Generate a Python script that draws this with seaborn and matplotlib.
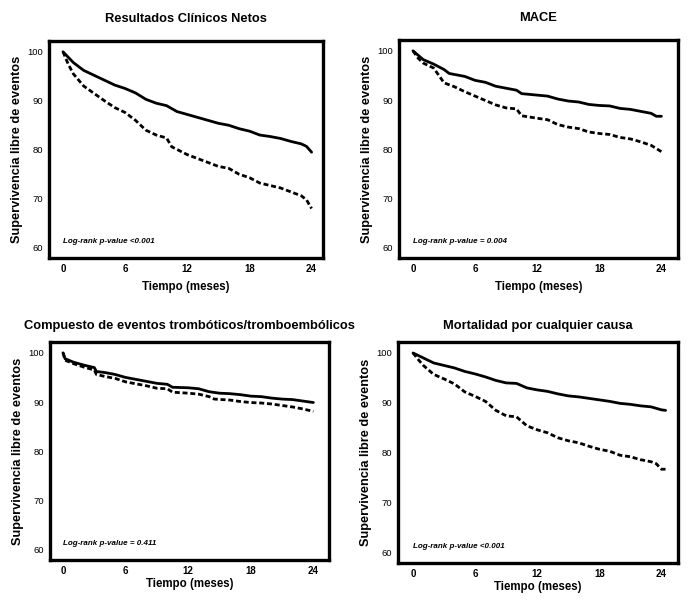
import numpy as np
import pandas as pd
import matplotlib.pyplot as plt
import seaborn as sns

# --- data (months, % event-free survival) ---
titles = [
    "Resultados Clínicos Netos",
    "MACE",
    "Compuesto de eventos trombóticos/tromboembólicos",
    "Mortalidad por cualquier causa",
]
pvalues = [
    "Log-rank p-value <0.001",
    "Log-rank p-value = 0.004",
    "Log-rank p-value = 0.411",
    "Log-rank p-value <0.001",
]

net_t_solid = [0, 1, 2, 3, 4, 5, 6, 7, 8, 9, 10, 11, 12, 13, 14, 15, 16, 17, 18, 19, 20, 21, 22, 23, 23.5, 24]
net_s_solid = [100, 97.8, 96.2, 95.2, 94.2, 93.2, 92.5, 91.6, 90.3, 89.5, 89.0, 87.8, 87.2, 86.6, 86.0, 85.4,
               85.0, 84.3, 83.8, 83.0, 82.7, 82.3, 81.7, 81.2, 80.7, 79.5]
net_t_dash = [0, 0.5, 1, 2, 3, 4, 5, 6, 7, 8, 9, 10, 10.5, 12, 13, 14, 15, 16, 17, 18, 19, 20, 21, 22, 23, 23.5, 24]
net_s_dash = [100, 97.5, 95.5, 93.0, 91.5, 90.0, 88.6, 87.6, 86.0, 84.0, 83.0, 82.4, 80.6, 79.0, 78.2, 77.4,
              76.6, 76.2, 75.0, 74.3, 73.2, 72.7, 72.2, 71.4, 70.6, 69.8, 68.0]

mace_t_solid = [0, 1, 2, 3, 3.5, 5, 6, 7, 8, 9, 10, 10.5, 12, 13, 14, 15, 16, 17, 18, 19, 20, 21, 22, 23, 23.5, 24]
mace_s_solid = [100, 98.2, 97.3, 96.2, 95.4, 94.8, 94.0, 93.6, 92.8, 92.4, 92.0, 91.3, 91.0, 90.8, 90.2, 89.8,
                89.6, 89.1, 88.9, 88.8, 88.3, 88.1, 87.7, 87.3, 86.7, 86.7]
mace_t_dash = [0, 0.5, 1, 2, 3, 4, 5, 6, 7, 8, 9, 10, 10.5, 12, 13, 14, 15, 16, 17, 18, 19, 20, 21, 22, 23, 24]
mace_s_dash = [100, 98.5, 97.5, 96.5, 93.5, 92.7, 91.7, 90.8, 89.9, 89.0, 88.4, 88.2, 86.8, 86.3, 86.0, 85.0,
               84.5, 84.2, 83.5, 83.2, 83.0, 82.4, 82.1, 81.5, 80.8, 79.5]

thr_t_solid = [0, 0.2, 1, 2, 3, 3.2, 4, 5, 6, 7, 8, 9, 10, 10.5, 12, 13, 14, 15, 16, 17, 18, 19, 20, 21, 22, 23, 24]
thr_s_solid = [100, 98.8, 98.1, 97.5, 97.0, 96.2, 96.0, 95.6, 95.0, 94.6, 94.2, 93.8, 93.6, 93.0, 92.9, 92.7,
               92.1, 91.8, 91.7, 91.5, 91.2, 91.1, 90.8, 90.6, 90.5, 90.2, 89.9]
thr_t_dash = [0, 0.2, 1, 2, 3, 3.2, 4, 5, 6, 7, 8, 9, 10, 10.5, 12, 13, 14, 14.5, 16, 17, 18, 19, 20, 21, 22, 23, 24]
thr_s_dash = [100, 98.5, 97.8, 97.1, 96.5, 95.6, 95.2, 94.8, 94.1, 93.7, 93.3, 92.8, 92.7, 92.0, 91.8, 91.6,
              91.1, 90.6, 90.4, 90.1, 89.9, 89.8, 89.6, 89.3, 89.0, 88.6, 88.1]

mort_t_solid = [0, 1, 2, 3, 4, 5, 6, 7, 8, 9, 10, 11, 12, 13, 14, 15, 16, 17, 18, 19, 20, 21, 22, 23, 24, 24.4]
mort_s_solid = [100, 99.0, 98.0, 97.5, 97.0, 96.3, 95.8, 95.2, 94.5, 94.0, 93.9, 93.0, 92.6, 92.3, 91.8, 91.4,
                91.2, 90.9, 90.6, 90.3, 89.9, 89.7, 89.4, 89.2, 88.6, 88.5]
mort_t_dash = [0, 0.5, 1, 2, 3, 4, 5, 6, 7, 8, 9, 10, 11, 12, 13, 14, 15, 16, 17, 18, 19, 20, 21, 22, 23, 23.5, 24, 24.4]
mort_s_dash = [100, 98.7, 97.5, 95.7, 94.8, 93.8, 92.2, 91.3, 90.3, 88.5, 87.4, 87.2, 85.4, 84.6, 84.0, 83.0,
               82.4, 82.0, 81.3, 80.7, 80.3, 79.5, 79.2, 78.6, 78.2, 77.8, 76.7, 76.7]

x_ticks = [0, 6, 12, 18, 24]
y_ticks = [60, 70, 80, 90, 100]

curves = [
    (net_t_solid, net_s_solid, net_t_dash, net_s_dash),
    (mace_t_solid, mace_s_solid, mace_t_dash, mace_s_dash),
    (thr_t_solid, thr_s_solid, thr_t_dash, thr_s_dash),
    (mort_t_solid, mort_s_solid, mort_t_dash, mort_s_dash),
]


def to_frame(t1, s1, t2, s2):
    a = pd.DataFrame({"t": t1, "s": s1, "grupo": "A"})
    b = pd.DataFrame({"t": t2, "s": s2, "grupo": "B"})
    return pd.concat([a, b], ignore_index=True)


sns.set_style("white")
plt.rcParams["font.family"] = ["Liberation Sans", "DejaVu Sans"]
for key in ["text.color", "axes.labelcolor", "xtick.color", "ytick.color"]:
    plt.rcParams[key] = "black"

fig = plt.figure(figsize=(6.98, 6.0), dpi=100)
W, H = 698, 600
# panel boxes in pixels: left, top, right, bottom
boxes = [(49, 41, 323, 258), (399, 40, 678, 258), (50, 342, 329, 560), (398, 342, 678, 563)]
xlims = [(-1.35, 25.1), (-1.35, 25.6), (-1.25, 25.5), (-1.45, 25.6)]

for i, (l, t, r, b) in enumerate(boxes):
    ax = fig.add_axes([l / W, 1 - b / H, (r - l) / W, (b - t) / H])
    df = to_frame(*curves[i])
    sns.lineplot(data=df, x="t", y="s", style="grupo", dashes={"A": "", "B": (1.8, 1.0)},
                 color="black", linewidth=2.0, estimator=None, legend=False, ax=ax)
    ax.set_xlim(*xlims[i])
    ax.set_ylim(57.9, 102.2)
    ax.set_xticks(x_ticks)
    ax.set_yticks(y_ticks)
    ax.tick_params(axis="both", direction="out", length=3, width=0.8, pad=1.5)
    for lab in ax.get_xticklabels():
        lab.set_fontweight("bold")
        lab.set_fontsize(7.0)
    for lab in ax.get_yticklabels():
        lab.set_fontsize(6.8)
    for sp in ax.spines.values():
        sp.set_linewidth(2.4)
        sp.set_color("black")
    top_row = i < 2
    ax.set_xlabel("Tiempo (meses)", fontsize=8.3, fontweight="bold", labelpad=5 if top_row else 1)
    ax.set_ylabel("Supervivencia libre de eventos", fontsize=9.2, fontweight="bold", labelpad=3)
    ax.set_title(titles[i], fontsize=9.3, fontweight="bold", pad=14 if top_row else 9)
    ax.text(0, 61.3, pvalues[i], fontsize=5.8, style="italic", fontweight="bold",
            va="center", ha="left")

fig.savefig("out.png", dpi=100)
